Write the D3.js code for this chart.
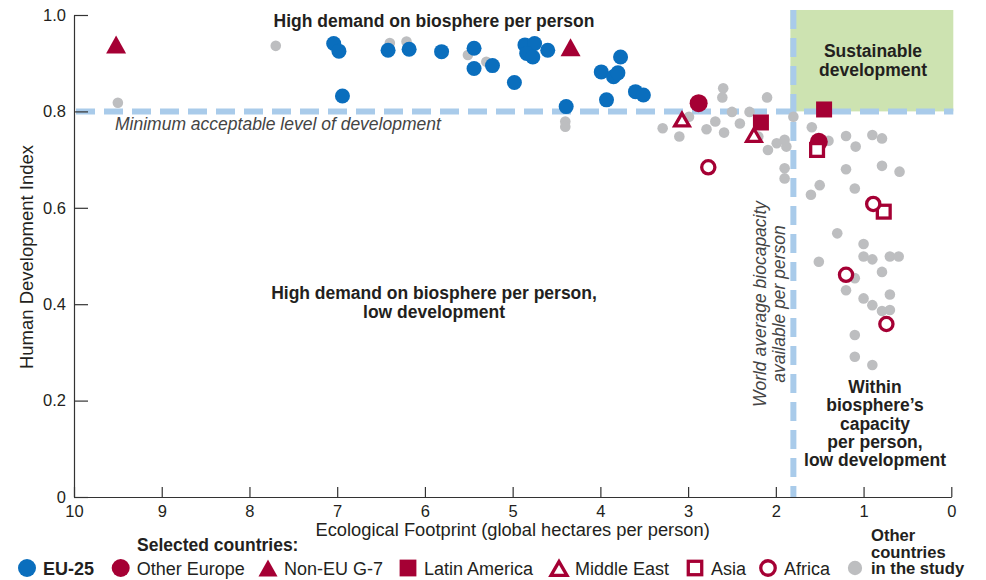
<!DOCTYPE html>
<html>
<head>
<meta charset="utf-8">
<script src="https://cdn.jsdelivr.net/npm/d3@7"></script>
<style>
  html, body { margin: 0; padding: 0; background: #fff; }
  svg { display: block; font-family: "Liberation Sans", Arial, Helvetica, sans-serif; }
</style>
</head>
<body>
<svg id="chart" width="986" height="580"></svg>
<script>
// ---------- DATA (Ecological Footprint gha/person, Human Development Index) ----------
const xTicks = [10, 9, 8, 7, 6, 5, 4, 3, 2, 1, 0];
const xTickLabels = ["10", "9", "8", "7", "6", "5", "4", "3", "2", "1", "0"];
const yTicks = [0, 0.2, 0.4, 0.6, 0.8, 1.0];
const yTickLabels = ["0", "0.2", "0.4", "0.6", "0.8", "1.0"];

const minHDI = 0.8;
const worldBiocapacity = 1.8;

const eu25FP  = [7.04, 6.98, 6.94, 6.42, 6.18, 5.81, 5.44, 5.44, 5.23, 4.98, 4.86, 4.75, 4.84, 4.77, 4.60, 4.39, 3.99, 3.85, 3.80, 3.77, 3.93, 3.60, 3.51];
const eu25HDI = [0.941, 0.925, 0.832, 0.927, 0.929, 0.924, 0.931, 0.889, 0.895, 0.860, 0.938, 0.941, 0.920, 0.913, 0.927, 0.810, 0.882, 0.872, 0.880, 0.913, 0.824, 0.841, 0.834];

const otherEuropeFP  = [2.88, 1.51];
const otherEuropeHDI = [0.817, 0.737];

const nonEuG7FP  = [9.52, 4.34];
const nonEuG7HDI = [0.939, 0.933];

const latinAmericaFP  = [2.17, 1.45];
const latinAmericaHDI = [0.777, 0.804];

const middleEastFP  = [3.07, 2.25];
const middleEastHDI = [0.784, 0.752];

const asiaFP  = [1.53, 0.77];
const asiaHDI = [0.720, 0.592];

const africaFP  = [2.77, 0.89, 1.20, 0.74];
const africaHDI = [0.684, 0.608, 0.461, 0.359];

const otherFP  = [9.50, 7.70, 6.40, 6.21, 5.51, 5.30, 4.40, 4.40, 3.29, 3.10, 2.99, 2.79, 2.60, 2.61, 2.50, 2.69, 2.59, 2.30, 2.41, 2.10, 2.20, 2.09, 1.99, 1.90, 1.88, 1.80, 1.90, 1.90,
                  1.59, 1.40, 1.20, 1.09, 0.90, 0.79, 1.20, 0.79, 0.59, 1.50, 1.60, 1.10, 1.30, 1.00, 1.00, 0.90, 0.70, 0.60, 1.51, 0.79, 1.10, 1.20, 0.70, 1.00, 0.90, 0.79, 0.70, 1.10, 1.10, 0.90];
const otherHDI = [0.818, 0.936, 0.942, 0.945, 0.917, 0.903, 0.779, 0.768, 0.765, 0.748, 0.789, 0.763, 0.848, 0.829, 0.799, 0.779, 0.756, 0.799, 0.775, 0.829, 0.748, 0.720, 0.734, 0.741, 0.727, 0.789, 0.682, 0.661,
                  0.767, 0.739, 0.749, 0.727, 0.751, 0.744, 0.680, 0.687, 0.675, 0.647, 0.627, 0.640, 0.547, 0.525, 0.499, 0.493, 0.499, 0.499, 0.488, 0.467, 0.454, 0.429, 0.420, 0.412, 0.398, 0.386, 0.388, 0.336, 0.291, 0.274];

const legendLabels = ["EU-25", "Other Europe", "Non-EU G-7", "Latin America", "Middle East", "Asia", "Africa"];
const legendTitle = "Selected countries:";
const legendOther = ["Other", "countries", "in the study"];

// ---------- STYLE ----------
const BLUE = "#0a6ebd", RED = "#a50034", GRAY = "#bdbec0", DASH = "#a9cbea", GREEN = "#cde3b1", INK = "#231f20";

const svg = d3.select("#chart");
const x = d3.scaleLinear().domain([10, 0]).range([74, 951.3]);
const y = d3.scaleLinear().domain([0, 1]).range([497, 15]);

// Sustainable development box
svg.append("rect")
  .attr("x", x(worldBiocapacity) - 3).attr("y", y(1.0104))
  .attr("width", x(0) + 2 - (x(worldBiocapacity) - 3))
  .attr("height", y(minHDI) - y(1.0104))
  .attr("fill", GREEN);

// Dashed reference lines
svg.append("line")
  .attr("x1", x(10) + 2).attr("x2", x(0) + 2)
  .attr("y1", y(minHDI)).attr("y2", y(minHDI))
  .attr("stroke", DASH).attr("stroke-width", 6).attr("stroke-dasharray", "19 9");
svg.append("line")
  .attr("x1", x(worldBiocapacity)).attr("x2", x(worldBiocapacity))
  .attr("y1", y(1.0104)).attr("y2", y(0))
  .attr("stroke", DASH).attr("stroke-width", 6).attr("stroke-dasharray", "19 9");

// Axes
const xAxis = d3.axisBottom(x).tickValues(xTicks).tickFormat((d, i) => xTickLabels[i])
  .tickSizeInner(-10).tickSizeOuter(0).tickPadding(8);
const yAxis = d3.axisLeft(y).tickValues(yTicks).tickFormat((d, i) => yTickLabels[i])
  .tickSizeInner(-14).tickSizeOuter(0).tickPadding(8);

const gx = svg.append("g").attr("transform", `translate(0,${y(0)})`).call(xAxis);
const gy = svg.append("g").attr("transform", `translate(${x(10)},0)`).call(yAxis);
[gx, gy].forEach(g => {
  g.select(".domain").attr("stroke", "#333").attr("stroke-width", 1.2);
  g.selectAll(".tick line").attr("stroke", "#333").attr("stroke-width", 1.2);
  g.selectAll(".tick text").attr("fill", INK).style("font-size", "16.5px")
    .style("font-family", '"Liberation Sans", Arial, sans-serif');
});

// Axis titles
svg.append("text").attr("x", (x(10) + x(0)) / 2).attr("y", 536)
  .attr("text-anchor", "middle").attr("fill", INK).style("font-size", "18.3px")
  .text("Ecological Footprint (global hectares per person)");
svg.append("text").attr("transform", `translate(33,257) rotate(-90)`)
  .attr("text-anchor", "middle").attr("fill", INK).style("font-size", "18.5px")
  .text("Human Development Index");

// ---------- Marker helpers ----------
function drawMarker(g, type, size) {
  const s = size || 1;
  switch (type) {
    case "eu":
      return g.append("circle").attr("r", 7.5 * s).attr("fill", BLUE);
    case "otherEurope":
      return g.append("circle").attr("r", 9 * s).attr("fill", RED);
    case "g7": {
      const w = 20 * s, h = 18 * s;
      return g.append("path").attr("d", `M0,${-h / 2}L${w / 2},${h / 2}L${-w / 2},${h / 2}Z`).attr("fill", RED);
    }
    case "latin": {
      const a = 16 * s;
      return g.append("rect").attr("x", -a / 2).attr("y", -a / 2).attr("width", a).attr("height", a).attr("fill", RED);
    }
    case "middleEast": {
      const w = 14.5 * s, h = 12.5 * s;
      return g.append("path").attr("d", `M0,${-h / 2 + 0.5}L${w / 2},${h / 2 + 0.5}L${-w / 2},${h / 2 + 0.5}Z`)
        .attr("fill", "#fff").attr("stroke", RED).attr("stroke-width", 3.3).attr("stroke-linejoin", "miter");
    }
    case "asia": {
      const a = 12.8 * s;
      return g.append("rect").attr("x", -a / 2).attr("y", -a / 2).attr("width", a).attr("height", a)
        .attr("fill", "#fff").attr("stroke", RED).attr("stroke-width", 3.3);
    }
    case "africa":
      return g.append("circle").attr("r", 6.6 * s).attr("fill", "#fff").attr("stroke", RED).attr("stroke-width", 3.3);
    case "other":
      return g.append("circle").attr("r", 5.3 * s).attr("fill", GRAY);
  }
}

function plotGroup(fp, hdi, type) {
  const g = svg.append("g");
  fp.forEach((v, i) => {
    const m = g.append("g").attr("transform", `translate(${x(v)},${y(hdi[i])})`);
    drawMarker(m, type);
  });
}

plotGroup(otherFP, otherHDI, "other");
plotGroup(eu25FP, eu25HDI, "eu");
plotGroup(otherEuropeFP, otherEuropeHDI, "otherEurope");
plotGroup(nonEuG7FP, nonEuG7HDI, "g7");
plotGroup(latinAmericaFP, latinAmericaHDI, "latin");
plotGroup(middleEastFP, middleEastHDI, "middleEast");
plotGroup(asiaFP, asiaHDI, "asia");
plotGroup(africaFP, africaHDI, "africa");

// ---------- Annotations ----------
function label(lines, cx, y0, lh, opts) {
  const t = svg.append("text").attr("text-anchor", opts.anchor || "middle").attr("fill", opts.fill || INK)
    .style("font-size", opts.size || "17.5px").style("font-weight", opts.weight || "bold")
    .style("font-style", opts.style || "normal");
  if (opts.transform) t.attr("transform", opts.transform);
  lines.forEach((s, i) => t.append("tspan").attr("x", cx).attr("y", y0 + i * lh).text(s));
  return t;
}

label(["High demand on biosphere per person"], 434, 27, 0, {});
label(["High demand on biosphere per person,", "low development"], 434, 299, 19.3, {});
label(["Sustainable", "development"], 873, 57, 18.5, {});
label(["Within", "biosphere\u2019s", "capacity", "per person,", "low development"], 875, 393, 18.3, {});
label(["Minimum acceptable level of development"], 115, 130, 0, { anchor: "start", weight: "normal", style: "italic", fill: "#444" });
label(["World average biocapacity", "available per person"], 0, 0, 19,
  { weight: "normal", style: "italic", fill: "#444", transform: "translate(766,304) rotate(-90)" });

// ---------- Legend ----------
svg.append("text").attr("x", 137).attr("y", 551).attr("fill", INK)
  .style("font-size", "17.5px").style("font-weight", "bold").text(legendTitle);

const legendTypes = ["eu", "otherEurope", "g7", "latin", "middleEast", "asia", "africa"];
const legendX = [27, 120.7, 268, 408, 559, 695, 768];
const legendY = 568;
legendLabels.forEach((s, i) => {
  const m = svg.append("g").attr("transform", `translate(${legendX[i]},${legendY})`);
  const sc = { eu: 1.2, otherEurope: 1, g7: 0.95, latin: 1.05, middleEast: 1.1, asia: 1.05, africa: 1.1 }[legendTypes[i]];
  drawMarker(m, legendTypes[i], sc);
  svg.append("text").attr("x", legendX[i] + 16).attr("y", 575).attr("fill", INK)
    .style("font-size", "18px").style("font-weight", i === 0 ? "bold" : "normal").text(s);
});
{
  const m = svg.append("g").attr("transform", `translate(855,${legendY})`);
  drawMarker(m, "other", 1.35);
  label(legendOther, 871, 541, 16.6, { anchor: "start", size: "16.6px" });
}
</script>
</body>
</html>
